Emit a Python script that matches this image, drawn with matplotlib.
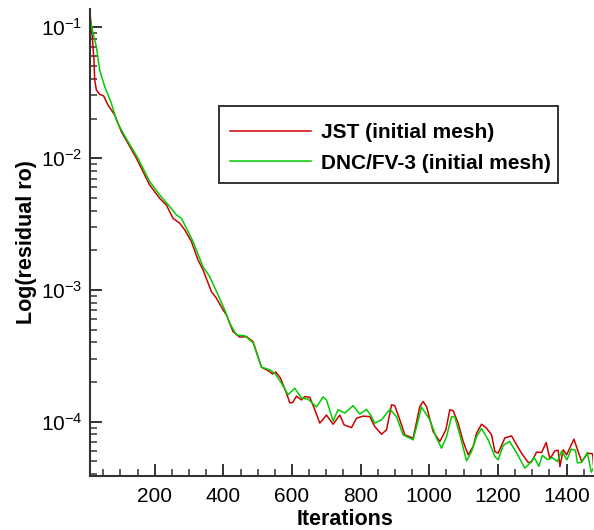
import matplotlib
matplotlib.use("Agg")
import matplotlib.pyplot as plt
from matplotlib.patches import Rectangle
from matplotlib.ticker import MultipleLocator, LogLocator, NullFormatter

plt.rcParams['font.family'] = ['Liberation Sans', 'DejaVu Sans']
plt.rcParams['mathtext.fontset'] = 'custom'
plt.rcParams['mathtext.rm'] = 'Liberation Sans'
plt.rcParams['mathtext.it'] = 'Liberation Sans:italic'
plt.rcParams['mathtext.bf'] = 'Liberation Sans:bold'
plt.rcParams['axes.unicode_minus'] = False

# JST (initial mesh)
jst_iter = [10.5, 17.2, 23, 25.1, 30, 39.6, 51.3, 63.8, 83.4, 102.9, 122.1, 146.6,
            185.4, 214.5, 234.1, 253.3, 272.8, 287.4, 306.9, 326.2, 340.8, 365.2,
            379.8, 399.1, 409, 428.2, 447.7, 467.3, 486.5, 511, 530.2, 543.1, 552.7,
            566.4, 583.9, 593.5, 601.4, 613, 627.6, 637.2, 651.8, 666.4, 681, 700.5,
            719.7, 739.3, 751.8, 773.4, 788, 807.2, 826.7, 841.3, 860.8, 875.4, 890,
            899.6, 914.2, 928.8, 952.9, 972.4, 982.1, 992, 1011.2, 1030.8, 1048.2,
            1059.9, 1069.5, 1084.1, 1098.7, 1113.2, 1127.8, 1137.7, 1152.3, 1166.9,
            1181.5, 1191.1, 1200.7, 1220.3, 1239.8, 1254.3, 1268.9, 1288.2, 1298.1,
            1312.6, 1327.2, 1340.6, 1351.4, 1366, 1375.6, 1380.6, 1390.2, 1400.1,
            1421.4, 1434, 1443.8, 1462.2, 1475.9, 1479.7]
jst_res = [0.134, 0.0893, 0.0557, 0.0394, 0.0330, 0.0306, 0.0297, 0.0254, 0.0213,
           0.0159, 0.0130, 0.0100, 0.00626, 0.00496, 0.00441, 0.00350, 0.00321,
           0.00286, 0.00233, 0.00169, 0.00142, 0.000970, 0.000865, 0.000705,
           0.000646, 0.000482, 0.000438, 0.000442, 0.000405, 0.000259, 0.000244,
           0.000230, 0.000238, 0.000214, 0.000164, 0.000139, 0.000139, 0.000156,
           0.000146, 0.000155, 0.000153, 0.000123, 0.0000973, 0.000112, 0.0000955,
           0.000112, 0.0000944, 0.0000900, 0.000106, 0.000110, 0.000109, 0.0000916,
           0.0000802, 0.0000865, 0.000134, 0.000132, 0.000103, 0.0000792, 0.0000748,
           0.000130, 0.000142, 0.000130, 0.0000840, 0.0000705, 0.0000865, 0.000123,
           0.000121, 0.0000973, 0.0000705, 0.0000559, 0.0000646, 0.0000816,
           0.0000955, 0.0000891, 0.0000792, 0.0000592, 0.0000575, 0.0000752,
           0.0000778, 0.0000665, 0.0000575, 0.0000489, 0.0000494, 0.0000586,
           0.0000582, 0.0000693, 0.0000521, 0.0000599, 0.0000606, 0.0000455,
           0.0000610, 0.0000559, 0.0000735, 0.0000589, 0.0000497, 0.0000575,
           0.0000569, 0.0000430]

# DNC/FV-3 (initial mesh)
dnc_iter = [10.5, 12.5, 20.1, 30, 39.6, 54.2, 73.7, 88.3, 102.9, 122.1, 151.3, 185.4,
            214.5, 243.7, 263.2, 277.8, 292.4, 311.6, 340.8, 360.3, 384.5, 404,
            418.6, 438.1, 462.3, 486.5, 511, 535.2, 549.8, 569.3, 588.5, 608.1,
            627.6, 646.8, 671.3, 690.6, 700.5, 719.7, 734.3, 753.9, 778, 797.6,
            817.1, 831.7, 841.3, 860.8, 885, 904.5, 923.8, 952.9, 977.4, 1001.6,
            1021.1, 1035.7, 1050.3, 1064.9, 1074.6, 1089.1, 1108.6, 1123.2, 1137.7,
            1152.3, 1171.6, 1191.1, 1200.7, 1215.3, 1234, 1254.3, 1278.5, 1293.1,
            1305.6, 1319.3, 1329.5, 1344.1, 1358.7, 1373.3, 1385.5, 1401, 1413.5,
            1425.8, 1431.6, 1443.8, 1460.7, 1471.8, 1479.7]
dnc_res = [0.134, 0.112, 0.0893, 0.0703, 0.0468, 0.0350, 0.0262, 0.0195, 0.0164,
           0.0134, 0.0100, 0.00664, 0.00526, 0.00430, 0.00371, 0.00350, 0.00294,
           0.00233, 0.00150, 0.00126, 0.000916, 0.000705, 0.000558, 0.000455,
           0.000448, 0.000398, 0.000259, 0.000247, 0.000233, 0.000196, 0.000160,
           0.000179, 0.000151, 0.000148, 0.000129, 0.000154, 0.000146, 0.000101,
           0.000123, 0.000116, 0.000132, 0.000114, 0.000124, 0.000109, 0.0000973,
           0.000103, 0.000124, 0.000109, 0.0000792, 0.0000726, 0.000129, 0.000103,
           0.0000748, 0.0000628, 0.0000769, 0.000109, 0.000108, 0.0000792,
           0.0000503, 0.0000592, 0.0000769, 0.0000885, 0.0000726, 0.0000542,
           0.0000512, 0.0000658, 0.0000708, 0.0000578, 0.0000443, 0.0000483,
           0.0000535, 0.0000457, 0.0000554, 0.0000515, 0.0000532, 0.0000497,
           0.0000597, 0.0000512, 0.0000617, 0.0000606, 0.0000486, 0.0000490,
           0.0000582, 0.0000413, 0.0000449]

series_labels = ["JST (initial mesh)", "DNC/FV-3 (initial mesh)"]
x_label = "Iterations"
y_label = "Log(residual ro)"

W, H = 594, 530
fig = plt.figure(figsize=(W / 100, H / 100), dpi=100)
ax = fig.add_axes([89.5 / W, 1 - 476 / H, (593 - 89.5) / W, (476 - 9) / H])

ax.plot(jst_iter, jst_res, color='#cc0000', lw=1.1, label=series_labels[0])
ax.plot(dnc_iter, dnc_res, color='#00cc00', lw=1.1, label=series_labels[1])

ax.set_yscale('log')
ax.set_xlim(10, 1477)
ax.set_ylim(3.86e-5, 0.136)

ax.xaxis.set_major_locator(MultipleLocator(200))
ax.xaxis.set_minor_locator(MultipleLocator(50))
ax.yaxis.set_major_locator(LogLocator(base=10))
ax.yaxis.set_minor_locator(LogLocator(base=10, subs=range(2, 10)))
ax.yaxis.set_minor_formatter(NullFormatter())

for s in ['top', 'right']:
    ax.spines[s].set_visible(False)
for s in ['left', 'bottom']:
    ax.spines[s].set_linewidth(1.5)
    ax.spines[s].set_color('#333333')

ax.tick_params(which='major', direction='in', length=8.5, width=1.4, colors='#333333',
               labelsize=15, labelcolor='black')
ax.tick_params(which='minor', direction='in', length=5, width=1.1, colors='#333333')
ax.tick_params(axis='x', which='major', pad=8)
ax.tick_params(axis='y', which='major', pad=5)

ax.set_xlabel(x_label, fontsize=15.5, fontweight='bold')
ax.set_ylabel(y_label, fontsize=15.5, fontweight='bold')
ax.xaxis.set_label_coords(0.507, -0.070)
ax.yaxis.set_label_coords(-0.104, 0.5)

# legend frame drawn as a rectangle in figure pixels
ax.add_patch(Rectangle((219 / W, 1 - 183 / H), (558 - 219) / W, (183 - 106) / H,
                       transform=fig.transFigure, facecolor='white', clip_on=False,
                       edgecolor='#333333', linewidth=1.4, zorder=5))
leg = ax.legend(loc='center left', bbox_to_anchor=(230 / W, 1 - 148 / H),
                bbox_transform=fig.transFigure, borderaxespad=0, borderpad=0,
                prop={'weight': 'bold', 'size': 15}, handlelength=3.9,
                handletextpad=0.47, labelspacing=0.55, frameon=False)
leg.set_zorder(6)
for line in leg.get_lines():
    line.set_linewidth(1.1)

fig.savefig('out.png', dpi=100)
